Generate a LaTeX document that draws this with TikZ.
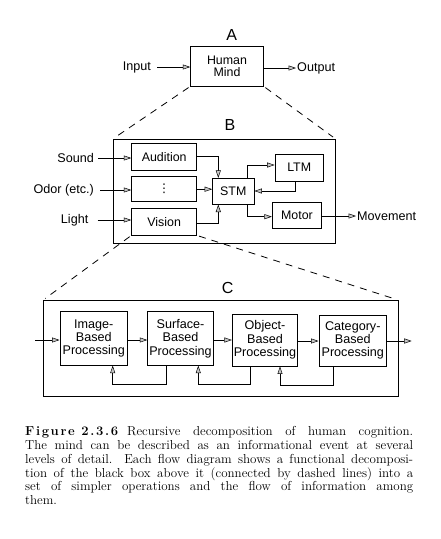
\documentclass[tikz,border=0pt]{standalone}
\usepackage{fontspec}
\newfontfamily\dsans{Liberation Sans}
\newfontfamily\djv{DejaVu Sans}
\usetikzlibrary{arrows.meta}
\begin{document}
\begin{tikzpicture}[x=1pt,y=-1pt,
  box/.style={draw,line width=0.9pt,inner sep=0pt,align=center,font=\dsans\fontsize{12.4}{11.9}\selectfont},
  cbox/.style={box,font=\dsans\fontsize{12.6}{13.4}\selectfont},
  lbl/.style={inner sep=0pt,font=\dsans\fontsize{12.6}{12}\selectfont},
  big/.style={inner sep=0pt,font=\dsans\fontsize{16}{16}\selectfont},
  arr/.style={-{Triangle[length=7.5pt,width=5pt,fill=gray!45,line width=0.5pt]},line width=0.75pt},
  dsh/.style={line width=0.8pt,dash pattern=on 7pt off 6pt}]
\useasboundingbox (0,0) rectangle (441,539);
% ---- A
\node[big] (la) at (231.7,35) {A};
\node[box,minimum width=72.6pt,minimum height=39.3pt] (A) at (227,66.3) {Human\\Mind};
\node[lbl,anchor=east] (input) at (151,67) {Input};
\node[lbl,anchor=west] (output) at (297,68) {Output};
\draw[arr,shorten <=6pt] (input.east) -- (input.east -| A.west);
\draw[arr,shorten >=1pt] (A.east |- output.west) -- (output.west);
% ---- B
\node[big] (lb) at (230,125) {B};
\node[draw,line width=0.9pt,minimum width=221.7pt,minimum height=104pt,inner sep=0pt] (B) at (224.2,191.3) {};
\node[box,minimum width=65pt,minimum height=26.7pt] (aud) at (164.2,156.7) {Audition};
\node[box,minimum width=65pt,minimum height=25pt,font=\djv\fontsize{12}{12}\selectfont] (dots) at (164.2,189.2) {⋮};
\node[box,minimum width=65pt,minimum height=26.7pt] (vis) at (164.2,221.7) {Vision};
\draw[line width=1.8pt] (vis.south west) -- (vis.south east);
\node[box,minimum width=41.3pt,minimum height=25.7pt] (stm) at (233.3,191.2) {STM};
\node[box,minimum width=48.3pt,minimum height=26.7pt] (ltm) at (299.2,167.7) {LTM};
\node[box,minimum width=49.4pt,minimum height=25.6pt] (mot) at (297,215.5) {Motor};
\node[lbl,anchor=east] (sound) at (94,158) {Sound};
\node[lbl,anchor=east] (odor) at (94,190) {Odor (etc.)};
\node[lbl,anchor=east] (light) at (88.5,220) {Light};
\node[lbl,anchor=west] (move) at (357,216) {Movement};
\draw[arr,shorten <=4pt] (sound.east) -- (sound.east -| aud.west);
\draw[arr,shorten <=6pt] (odor.east) -- (odor.east -| dots.west);
\draw[arr,shorten <=9pt] (light.east) -- (light.east -| vis.west);
\draw[arr] (aud.east) -| (stm.north -| 218.3,0);
\draw[arr] (dots.east) -- (dots.east -| stm.west);
\draw[arr] (vis.east |- 0,223.3) -| (stm.south -| 218.3,0);
\draw[arr] (stm.north -| 247.3,0) |- (ltm.west |- 0,165);
\draw[arr] (ltm.south -| 295,0) |- (stm.east |- 0,191);
\draw[arr] (stm.south -| 247.3,0) |- (mot.west |- 0,216.7);
\draw[arr,shorten >=1pt] (mot.east |- move.west) -- (move.west);
% ---- dashed A->B
\draw[dsh,shorten <=2pt,shorten >=4pt] (A.south west) -- (B.north west);
\draw[dsh,shorten <=2pt,shorten >=3pt] (A.south east) -- (B.north east);
% ---- C
\node[big] (lc) at (227.7,288.3) {C};
\node[draw,line width=0.9pt,minimum width=355pt,minimum height=95.3pt,inner sep=0pt] (C) at (220.8,348.3) {};
\node[cbox,minimum width=67.7pt,minimum height=53.3pt] (img) at (93.8,338.5) {Image-\\Based\\Processing};
\node[cbox,minimum width=65.6pt,minimum height=53.3pt] (surf) at (180.5,338.5) {Surface-\\Based\\Processing};
\node[cbox,minimum width=65.4pt,minimum height=52pt] (obj) at (265,340) {Object-\\Based\\Processing};
\node[cbox,minimum width=67.7pt,minimum height=51pt] (cat) at (352.8,340.5) {Category-\\Based\\Processing};
\coordinate (cin) at (35,340);
\coordinate (cout) at (411.7,341);
\draw[arr] (cin) -- (cin -| img.west);
\draw[arr] (img.east |- 0,340) -- (surf.west |- 0,340);
\draw[arr] (surf.east |- 0,340) -- (obj.west |- 0,340);
\draw[arr] (obj.east |- 0,341) -- (cat.west |- 0,341);
\draw[arr] (cat.east |- cout) -- (cout);
\coordinate (f1) at (112.7,384);
\coordinate (f2) at (198.3,384);
\coordinate (f3) at (280,385);
\draw[arr] (surf.south -| 166.7,0) |- (f1) -- (img.south -| f1);
\draw[arr] (obj.south -| 250,0) |- (f2) -- (surf.south -| f2);
\draw[arr] (cat.south -| 333.3,0) |- (f3) -- (obj.south -| f3);
% ---- dashed B->C
\draw[dsh,shorten <=2pt,shorten >=3pt] (vis.south west) -- (C.north west);
\draw[dsh,shorten <=2pt,shorten >=2pt] (vis.south east) -- (C.north east);
% ---- caption
\node[anchor=north west,inner sep=0pt,text width=388pt,align=justify,
  font=\fontsize{13}{13.9}\selectfont] (cap) at (25,426)
 {\makebox[93pt][s]{\bfseries F\hfil i\hfil g\hfil u\hfil r\hfil e\hspace{5pt}\hfil 2\hfil .\hfil 3\hfil .\hfil 6}\hspace{9pt}Recursive decomposition of human cognition.\linebreak
 The mind can be described as an informational event at several\linebreak
 levels of detail. Each flow diagram shows a functional decomposi-\linebreak
 tion of the black box above it (connected by dashed lines) into a\linebreak
 set of simpler operations and the flow of information among\linebreak
 them.};
\end{tikzpicture}
\end{document}
